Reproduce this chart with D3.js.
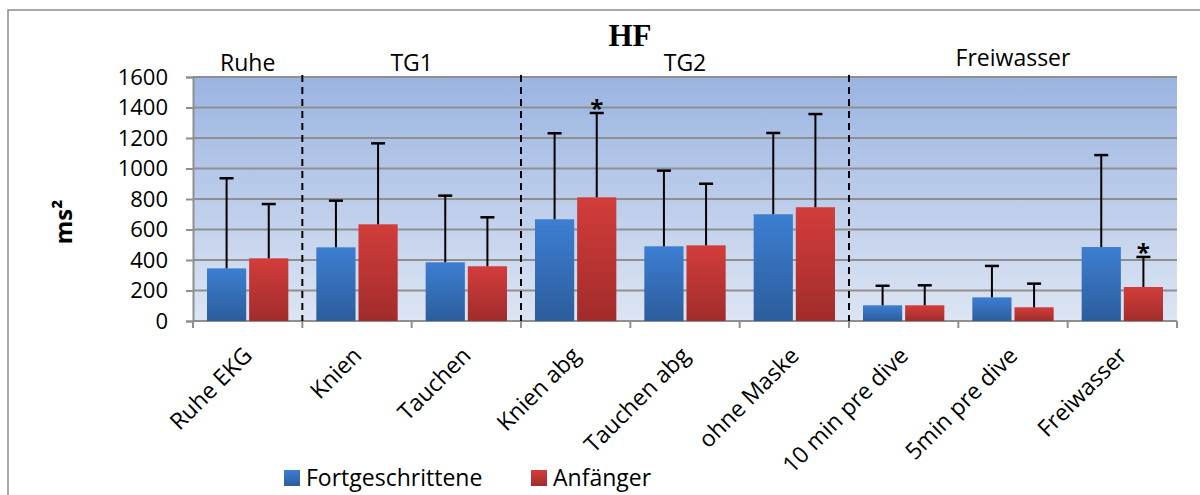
<!DOCTYPE html>
<html>
<head>
<meta charset="utf-8">
<script src="https://cdn.jsdelivr.net/npm/d3@7"></script>
<style>
  body { margin: 0; background: #fff; }
  svg { display: block; font-family: "Open Sans", sans-serif; }
</style>
</head>
<body>
<svg id="chart" width="1200" height="495"></svg>
<script>
// values (ms²), mean + upper SD
var categories = ["Ruhe EKG", "Knien", "Tauchen", "Knien abg", "Tauchen abg", "ohne Maske", "10 min pre dive", "5min pre dive", "Freiwasser"];
var series = ["Fortgeschrittene", "Anfänger"];
var fortMean = [345, 483, 385, 667, 490, 700, 103, 155, 485];
var fortSD   = [591, 306, 437, 564, 496, 533, 128, 206, 603];
var anfMean  = [411, 634, 359, 811, 496, 746, 103, 90, 223];
var anfSD    = [356, 531, 321, 553, 404, 611, 131, 155, 197];
var yTicks = [0, 200, 400, 600, 800, 1000, 1200, 1400, 1600];
// section headers and where the dashed separators go
var groups = [
  {name: "Ruhe", from: 0, to: 0},
  {name: "TG1", from: 1, to: 2},
  {name: "TG2", from: 3, to: 5},
  {name: "Freiwasser", from: 6, to: 8}
];
var separators = [1, 3, 6];
// significance marks: [category index, series index]
var stars = [[3, 1], [8, 1]];

var svg = d3.select("#chart");
var plotLeft = 193, plotRight = 1177, plotTop = 77, plotBottom = 321;

var x = d3.scaleBand().domain(categories).range([plotLeft, plotRight]);
var bw = x.bandwidth();
var x1 = d3.scaleBand().domain(series).range([14, bw - 14]).paddingInner(0.07);
var y = d3.scaleLinear().domain([0, 1600]).range([plotBottom, plotTop]);

var colors = {"Fortgeschrittene": ["#3d7ed2", "#2c5d9c"], "Anfänger": ["#d23d3b", "#a12c2b"]};

var defs = svg.append("defs");
var bg = defs.append("linearGradient").attr("id", "bg").attr("x1", 0).attr("y1", 0).attr("x2", 0).attr("y2", 1);
bg.append("stop").attr("offset", 0).attr("stop-color", "#9ab4e1");
bg.append("stop").attr("offset", 1).attr("stop-color", "#dde5f3");
series.forEach(function(s, i) {
  var g = defs.append("linearGradient").attr("id", "grad" + i).attr("x1", 0).attr("y1", 0).attr("x2", 0).attr("y2", 1);
  g.append("stop").attr("offset", 0).attr("stop-color", colors[s][0]);
  g.append("stop").attr("offset", 1).attr("stop-color", colors[s][1]);
});

// outer frame (only left and top edges fall inside the picture)
svg.append("path").attr("d", "M8,495V10H1200").attr("fill", "none").attr("stroke", "#8c8c8c").attr("stroke-width", 1.5);

// plot background
svg.append("rect").attr("x", plotLeft).attr("y", plotTop).attr("width", plotRight - plotLeft).attr("height", plotBottom - plotTop).attr("fill", "url(#bg)");

// gridlines
svg.append("g").selectAll("line").data(yTicks).enter().append("line")
  .attr("x1", plotLeft).attr("x2", plotRight)
  .attr("y1", function(d) { return y(d); }).attr("y2", function(d) { return y(d); })
  .attr("stroke", "#8f8f8f").attr("stroke-width", 2);

// y axis
var yAxis = svg.append("g").attr("transform", "translate(" + plotLeft + ",0)")
  .call(d3.axisLeft(y).tickValues(yTicks).tickSize(7).tickPadding(18).tickFormat(d3.format("d")));
yAxis.select(".domain").attr("stroke", "#8f8f8f").attr("stroke-width", 2);
yAxis.selectAll(".tick line").attr("stroke", "#8f8f8f").attr("stroke-width", 2);
yAxis.selectAll(".tick text").attr("font-family", "Open Sans").attr("font-size", 22).attr("fill", "#000");

// x axis line and boundary ticks
svg.append("line").attr("x1", plotLeft).attr("x2", plotRight).attr("y1", plotBottom).attr("y2", plotBottom)
  .attr("stroke", "#8f8f8f").attr("stroke-width", 2);
var bounds = categories.map(function(c) { return x(c); }).concat([plotRight]);
svg.append("g").selectAll("line").data(bounds).enter().append("line")
  .attr("x1", function(d) { return d; }).attr("x2", function(d) { return d; })
  .attr("y1", plotBottom).attr("y2", plotBottom + 7)
  .attr("stroke", "#8f8f8f").attr("stroke-width", 2);

// bars
var rows = [];
categories.forEach(function(c, i) {
  rows.push({cat: c, s: series[0], si: 0, v: fortMean[i], sd: fortSD[i]});
  rows.push({cat: c, s: series[1], si: 1, v: anfMean[i], sd: anfSD[i]});
});
svg.append("g").selectAll("rect").data(rows).enter().append("rect")
  .attr("x", function(d) { return x(d.cat) + x1(d.s); })
  .attr("y", function(d) { return y(d.v); })
  .attr("width", x1.bandwidth())
  .attr("height", function(d) { return y(0) - y(d.v); })
  .attr("fill", function(d) { return "url(#grad" + d.si + ")"; });

// error bars (upper only)
var eb = svg.append("g").attr("stroke", "#000").attr("stroke-width", 2);
rows.forEach(function(d) {
  var cx = x(d.cat) + x1(d.s) + x1.bandwidth() / 2;
  eb.append("line").attr("x1", cx).attr("x2", cx).attr("y1", y(d.v)).attr("y2", y(d.v + d.sd));
  eb.append("line").attr("x1", cx - 7).attr("x2", cx + 7).attr("y1", y(d.v + d.sd)).attr("y2", y(d.v + d.sd)).attr("stroke-width", 2.5);
});

// significance stars
svg.append("g").selectAll("text").data(stars).enter().append("text")
  .attr("x", function(d) { return x(categories[d[0]]) + x1(series[d[1]]) + x1.bandwidth() / 2; })
  .attr("y", function(d) {
    var v = d[1] == 0 ? fortMean[d[0]] + fortSD[d[0]] : anfMean[d[0]] + anfSD[d[0]];
    return y(v) + 4;
  })
  .attr("text-anchor", "middle").attr("font-size", 24).attr("font-weight", "bold")
  .text("*");

// dashed separators
svg.append("g").selectAll("line").data(separators).enter().append("line")
  .attr("x1", function(d) { return x(categories[d]); }).attr("x2", function(d) { return x(categories[d]); })
  .attr("y1", plotTop - 2).attr("y2", plotBottom)
  .attr("stroke", "#000").attr("stroke-width", 2).attr("stroke-dasharray", "7,5");

// section headers
svg.append("g").selectAll("text").data(groups).enter().append("text")
  .attr("x", function(d) { return (x(categories[d.from]) + x(categories[d.to]) + bw) / 2; })
  .attr("y", function(d) { return d.name == "Freiwasser" ? 66 : 71; })
  .attr("text-anchor", "middle").attr("font-size", 23)
  .text(function(d) { return d.name; });

// category labels, rotated
svg.append("g").selectAll("text").data(categories).enter().append("text")
  .attr("transform", function(d) { return "translate(" + (x(d) + bw / 2 + 6) + ",357) rotate(-45)"; })
  .attr("text-anchor", "end").attr("font-size", 23)
  .text(function(d) { return d; });

// title
svg.append("text").attr("x", 630).attr("y", 46).attr("text-anchor", "middle")
  .attr("font-family", "Liberation Serif").attr("font-weight", "bold").attr("font-size", 31)
  .text("HF");

// y axis title
svg.append("text").attr("transform", "translate(72,222) rotate(-90)")
  .attr("text-anchor", "middle").attr("font-weight", "bold").attr("font-size", 24)
  .text("ms²");

// legend
var legX = [284, 531];
var leg = svg.append("g").selectAll("g").data(series).enter().append("g")
  .attr("transform", function(d, i) { return "translate(" + legX[i] + ",470)"; });
leg.append("rect").attr("width", 16).attr("height", 16)
  .attr("fill", function(d, i) { return "url(#grad" + i + ")"; });
leg.append("text").attr("x", 22).attr("y", 16).attr("font-size", 23)
  .text(function(d) { return d; });
</script>
</body>
</html>
